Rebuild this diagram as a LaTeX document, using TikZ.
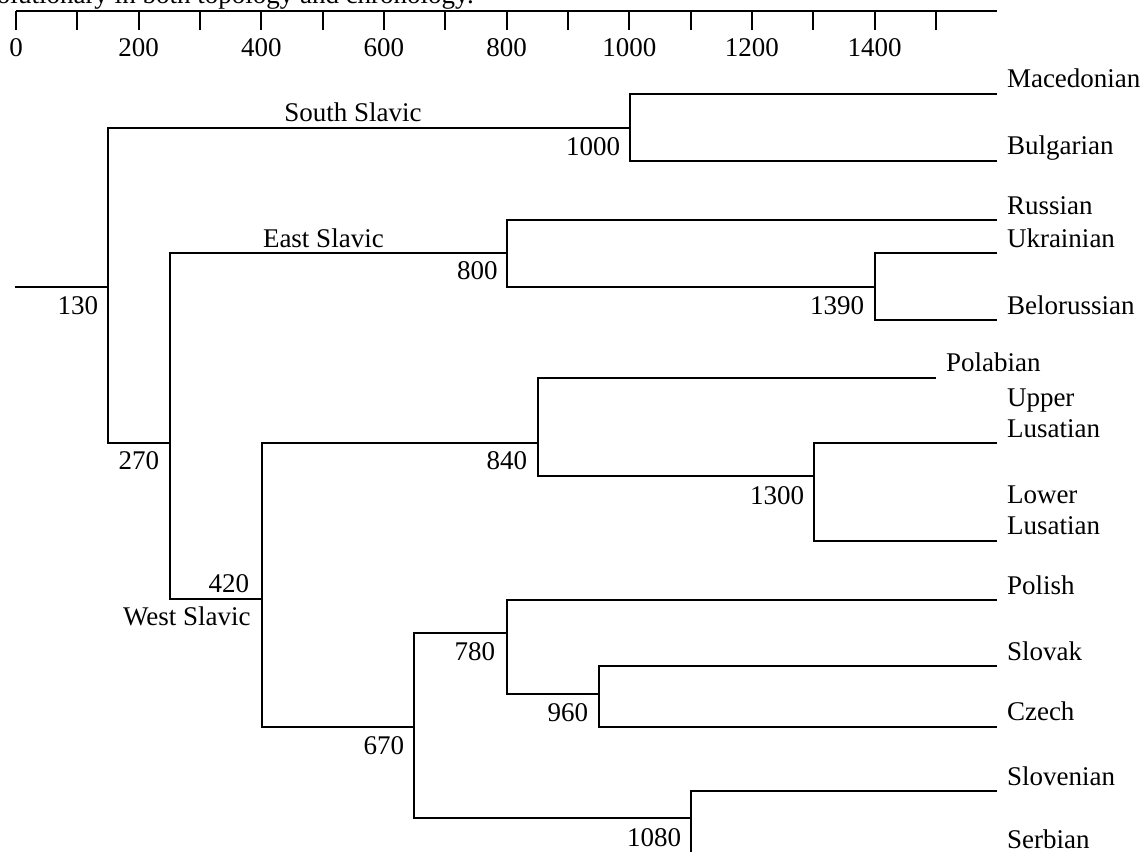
\documentclass[tikz,border=0pt]{standalone}
\usepackage{fontspec}
\setmainfont{Liberation Serif}
\usetikzlibrary{calc}
\begin{document}
\begin{tikzpicture}[x=1pt,y=-1pt,
  every node/.style={font=\fontsize{27}{31}\selectfont, inner sep=0pt, outer sep=0pt},
  branch/.style={line width=2pt, line join=miter},
  num/.style={anchor=base east},
  leaf/.style={anchor=base west},
  grp/.style={anchor=base west},
  tickmark/.style={line width=2pt}]
\useasboundingbox (0,0) rectangle (1145,851);
% cut-off caption line at top
\node[anchor=base west] (cap) at (-3,3.5) {olutionary in both topology and chronology.};
% time axis
\coordinate (axL) at (16,11);
\coordinate (axR) at (997,11);
\draw[tickmark] (axL) -- (axR);
\foreach \k in {0,...,15} {
  \draw[tickmark] ($(axL)+(61.33*\k,0)$) -- ++(0,19.5);
}
\foreach \k/\v in {0/0,2/200,4/400,6/600,8/800,10/1000,12/1200,14/1400} {
  \node[anchor=base] (ax\k) at ($(axL)+(61.33*\k,45.5)$) {\v};
}
% internal nodes (entry points of their parent branch)
\coordinate (root)  at (15,287);
\coordinate (n130)  at (108,287);
\coordinate (n1000) at (630,127.7);
\coordinate (n270)  at (170,442.7);
\coordinate (n800)  at (507,253.3);
\coordinate (n1390) at (875,287);
\coordinate (n420)  at (262,599.3);
\coordinate (n840)  at (538,443);
\coordinate (n1300) at (814,475.7);
\coordinate (n670)  at (414,727);
\coordinate (n780)  at (507,632.7);
\coordinate (n960)  at (599,694);
\coordinate (n1080) at (691,818.3);
% leaf ends
\coordinate (mac) at (997,94.3);
\coordinate (bul) at (997,160.7);
\coordinate (rus) at (997,220);
\coordinate (ukr) at (997,253.3);
\coordinate (bel) at (997,320);
\coordinate (pla) at (936,377.7);
\coordinate (uls) at (997,443.3);
\coordinate (lls) at (997,540.7);
\coordinate (pol) at (997,600);
\coordinate (slk) at (997,666);
\coordinate (cze) at (997,726.7);
\coordinate (slv) at (997,791);
\coordinate (srb) at (997,857);
% branches
\draw[branch] (root) -- (n130);
\draw[branch] (n1000) -| (n130) |- (n270);
\draw[branch] (mac) -| (n1000) |- (bul);
\draw[branch] (n800) -| (n270) |- (n420);
\draw[branch] (rus) -| (n800) |- (n1390);
\draw[branch] (ukr) -| (n1390) |- (bel);
\draw[branch] (n840) -| (n420) |- (n670);
\draw[branch] (pla) -| (n840) |- (n1300);
\draw[branch] (uls) -| (n1300) |- (lls);
\draw[branch] (n780) -| (n670) |- (n1080);
\draw[branch] (pol) -| (n780) |- (n960);
\draw[branch] (slk) -| (n960) |- (cze);
\draw[branch] (slv) -| (n1080) |- (srb);
% node dates
\node[num] (t130)  at (98,314) {130};
\node[num] (t1000) at (620,155) {1000};
\node[num] (t800)  at (497.5,279) {800};
\node[num] (t1390) at (864,314) {1390};
\node[num] (t270)  at (159,469) {270};
\node[num] (t840)  at (527,469) {840};
\node[num] (t1300) at (804,504) {1300};
\node[num] (t420)  at (249,592) {420};
\node[num] (t780)  at (495,660) {780};
\node[num] (t960)  at (588,721) {960};
\node[num] (t670)  at (404,754) {670};
\node[num] (t1080) at (681,846) {1080};
% group labels
\node[anchor=base] (gS) at (353,121.5) {South Slavic};
\node[grp] (gE) at (263,247.5) {East Slavic};
\node[grp] (gW) at (123,625) {West Slavic};
% leaf labels
\node[leaf] (Lmac) at (1007,88) {Macedonian};
\node[leaf] (Lbul) at (1007,154.7) {Bulgarian};
\node[leaf] (Lrus) at (1007,214) {Russian};
\node[leaf] (Lukr) at (1007,247.3) {Ukrainian};
\node[leaf] (Lbel) at (1007,314) {Belorussian};
\node[leaf] (Lpla) at (946,371.7) {Polabian};
\node[leaf] (Luls) at (1007,437) {\begin{tabular}[b]{@{}l@{}}Upper\\Lusatian\end{tabular}};
\node[leaf] (Llls) at (1007,534.7) {\begin{tabular}[b]{@{}l@{}}Lower\\Lusatian\end{tabular}};
\node[leaf] (Lpol) at (1007,594) {Polish};
\node[leaf] (Lslk) at (1007,660) {Slovak};
\node[leaf] (Lcze) at (1007,720.7) {Czech};
\node[leaf] (Lslv) at (1007,785) {Slovenian};
\node[leaf] (Lsrb) at (1007,848.5) {Serbian};
\end{tikzpicture}
\end{document}
